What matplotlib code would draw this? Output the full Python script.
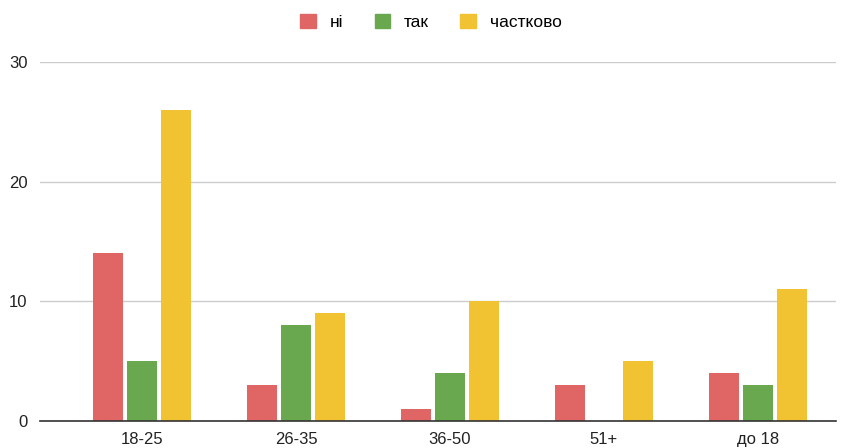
import matplotlib.pyplot as plt
import matplotlib.patches as mpatches
import numpy as np

# ─── data ───
categories = ["18-25", "26-35", "36-50", "51+", "до 18"]
series_names = ["ні", "так", "частково"]
ni = [14, 3, 1, 3, 4]
tak = [5, 8, 4, 0, 3]
chastkovo = [26, 9, 10, 5, 11]
colors = ["#E06666", "#6AA84F", "#F1C232"]

plt.rcParams["font.family"] = ["Liberation Sans", "DejaVu Sans"]

W, H = 851, 448
fig = plt.figure(figsize=(W / 100, H / 100), dpi=100)
ax = fig.add_axes([40 / W, 27 / H, (836 - 40) / W, (421 - 62) / H])

x = np.arange(len(categories))
width = 30 / 154
step = 34 / 154
for i, (vals, c) in enumerate(zip([ni, tak, chastkovo], colors)):
    ax.bar(x + (i - 1) * step, vals, width=width, color=c, zorder=3)

ax.set_xlim((40 - 142) / 154, (836 - 142) / 154)
ax.set_ylim(0, 30)
ax.set_yticks([0, 10, 20, 30])
ax.set_xticks(x)
ax.set_xticklabels(categories)
ax.tick_params(axis="both", length=0, labelsize=12, colors="#222222")
ax.tick_params(axis="y", pad=9)
ax.tick_params(axis="x", pad=8)

ax.grid(axis="y", color="#CCCCCC", linewidth=1, zorder=0)
for s in ["top", "right", "left"]:
    ax.spines[s].set_visible(False)
ax.spines["bottom"].set_color("#333333")
ax.spines["bottom"].set_linewidth(1.2)
ax.spines["bottom"].set_zorder(4)

handles = [mpatches.Patch(color=c, label=n) for n, c in zip(series_names, colors)]
fig.legend(handles=handles, loc="center", bbox_to_anchor=(431 / W, 1 - 22 / H),
           ncol=3, frameon=False, fontsize=12.5, handlelength=0.9, handleheight=0.9,
           handletextpad=0.8, columnspacing=1.8)

fig.savefig("out.png", dpi=100)
